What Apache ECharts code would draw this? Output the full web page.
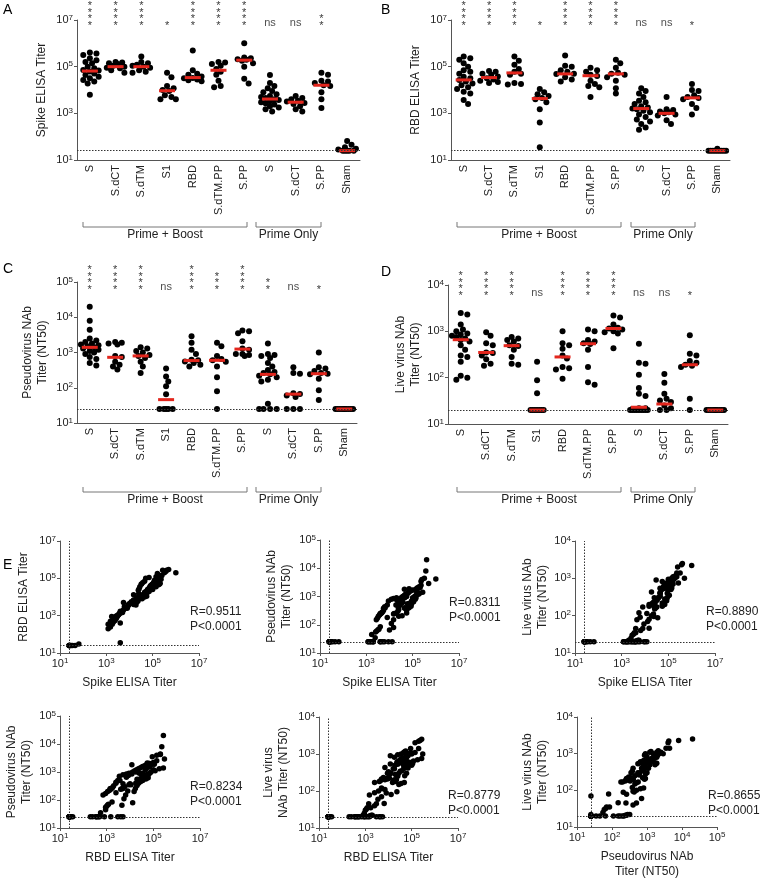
<!DOCTYPE html>
<html>
<head>
<meta charset="utf-8">
<script src="https://cdn.jsdelivr.net/npm/echarts@6/dist/echarts.min.js"></script>
<style>
html, body { margin: 0; padding: 0; background: #fff; }
#main { width: 760px; height: 880px; }
</style>
</head>
<body>
<div id="main"></div>
<script>
// groups on the x axis (first 7 prime + boost, next 3 prime only, then sham)
var groups = ['S', 'S.dCT', 'S.dTM', 'S1', 'RBD', 'S.dTM.PP', 'S.PP', 'S', 'S.dCT', 'S.PP', 'Sham'];

// A: spike ELISA titer, per group
var spikeTiter = [
  [4e5, 3.7e5, 3.2e5, 2.3e5, 1.9e5, 1.6e5, 1.4e5, 1e5, 8.5e4, 7.2e4, 6.8e4, 6.2e4, 5.1e4, 4.4e4, 3.7e4, 3.2e4, 2.7e4, 2.3e4, 1.9e4, 6.2e3],
  [1.6e5, 1.5e5, 1.4e5, 1.3e5, 1.1e5, 1e5, 9e4, 8.5e4, 7e4, 5.5e4],
  [2.7e5, 1.6e5, 1.4e5, 1.2e5, 1.1e5, 1e5, 9e4, 7e4, 6e4, 5.5e4],
  [5.5e4, 3.5e4, 1.5e4, 1.2e4, 1e4, 9e3, 6e3, 5e3, 4e3, 4e3],
  [4.9e5, 7e4, 5e4, 4.5e4, 3.8e4, 3.3e4, 3.2e4, 2.8e4, 2.6e4, 2.4e4],
  [1.6e5, 1.5e5, 1.3e5, 1.1e5, 8e4, 6e4, 4.5e4, 2.5e4, 1.5e4, 1.3e4],
  [1e6, 2.5e5, 2.3e5, 2.1e5, 2e5, 1.8e5, 1.4e5, 1e5, 3e4, 1.9e4],
  [4.4e4, 2e4, 1.5e4, 1.2e4, 9e3, 8e3, 6.5e3, 5.5e3, 5e3, 4.5e3, 4e3, 3.7e3, 3.3e3, 3e3, 2.7e3, 2.4e3, 2e3, 1.8e3, 1.5e3, 1.2e3],
  [5.5e3, 4.5e3, 4e3, 3.5e3, 3.2e3, 2.8e3, 2.5e3, 2e3, 1.5e3, 1.2e3],
  [5.5e4, 4.5e4, 2.5e4, 2.3e4, 2e4, 1.6e4, 1.5e4, 8e3, 4e3, 1.7e3],
  [65, 45, 35, 30, 28, 25, 25, 25, 25, 25]
];
// B: RBD ELISA titer
var rbdTiter = [
  [2.7e5, 2.3e5, 2e5, 1.4e5, 1e5, 7e4, 6e4, 5e4, 3.7e4, 3.2e4, 2.7e4, 2.3e4, 1.9e4, 1.6e4, 1.3e4, 1.1e4, 8.5e3, 7e3, 3.7e3, 2.5e3],
  [6.5e4, 6e4, 5e4, 4.5e4, 3.8e4, 3.2e4, 2.8e4, 2.5e4, 2.2e4, 2e4],
  [2.7e5, 1.8e5, 1.2e5, 8e4, 6e4, 5e4, 4.5e4, 2e4, 1.8e4, 1.7e4],
  [1.1e4, 8e3, 6.5e3, 5.5e3, 4.5e3, 4e3, 3e3, 1.5e3, 400, 35],
  [3e5, 1.1e5, 1e5, 7e4, 6e4, 5e4, 4.8e4, 3.5e4, 2.8e4, 2.3e4],
  [9e4, 7e4, 6e4, 4.5e4, 4e4, 2.5e4, 1.8e4, 1.5e4, 1.3e4, 5e3],
  [2e5, 1.4e5, 9e4, 5.5e4, 5e4, 4.5e4, 3.5e4, 2.5e4, 1.2e4, 7e3],
  [1.2e4, 9e3, 7e3, 5e3, 3.5e3, 3e3, 2.5e3, 2e3, 1.8e3, 1.6e3, 1.5e3, 1.3e3, 1.1e3, 900, 700, 550, 450, 350, 250, 200],
  [5e3, 1.5e3, 1.4e3, 1.2e3, 1.1e3, 1e3, 900, 800, 500, 350],
  [1.8e4, 1e4, 9e3, 6e3, 5e3, 4.5e3, 4e3, 2.5e3, 1.7e3, 900],
  [30, 25, 25, 25, 25, 25, 25, 25, 25, 25]
];
// C: pseudovirus NAb titer (NT50)
var pseudoTiter = [
  [2e4, 8e3, 4.4e3, 2.5e3, 2.2e3, 2e3, 1.8e3, 1.7e3, 1.6e3, 1.5e3, 1.4e3, 1.3e3, 1.2e3, 1.1e3, 1e3, 900, 750, 650, 500, 430],
  [2e3, 1.9e3, 1.8e3, 1.7e3, 800, 750, 550, 450, 400, 330],
  [1.4e3, 1.3e3, 1.1e3, 1e3, 850, 800, 700, 550, 400, 260],
  [350, 210, 150, 110, 65, 25, 25, 25, 25, 25],
  [2.9e3, 1.9e3, 1.2e3, 900, 620, 600, 560, 500, 450, 400],
  [1.9e3, 1.5e3, 800, 650, 600, 550, 400, 200, 80, 25],
  [4.2e3, 4e3, 3.5e3, 2.1e3, 1.3e3, 1.2e3, 900, 900, 850, 800],
  [1.8e3, 900, 850, 800, 700, 500, 400, 320, 280, 260, 240, 220, 200, 170, 150, 35, 25, 25, 25, 25],
  [380, 260, 250, 70, 66, 60, 55, 25, 25, 25],
  [1e3, 380, 350, 300, 260, 250, 240, 180, 85, 45],
  [25, 25, 25, 25, 25, 25, 25, 25, 25, 25]
];
// D: live virus NAb titer (NT50)
var liveTiter = [
  [2.5e3, 2.3e3, 1.4e3, 1.1e3, 1e3, 900, 850, 800, 750, 700, 650, 600, 500, 400, 300, 280, 220, 110, 100, 90],
  [950, 800, 550, 500, 350, 340, 300, 250, 200, 180],
  [750, 700, 650, 600, 500, 480, 400, 280, 200, 190],
  [220, 88, 46, 20, 20, 20, 20, 20, 20, 20],
  [1e3, 550, 500, 420, 300, 260, 170, 160, 150, 95],
  [1.1e3, 1e3, 650, 600, 550, 530, 400, 170, 80, 70],
  [2.2e3, 2e3, 1.4e3, 1.2e3, 1.15e3, 1.1e3, 1e3, 950, 900, 430],
  [540, 210, 200, 115, 60, 45, 40, 22, 22, 21, 21, 20, 20, 20, 20, 20, 20, 20, 20, 20],
  [120, 78, 45, 35, 32, 30, 25, 22, 20, 20],
  [820, 330, 300, 230, 210, 190, 180, 170, 35, 20],
  [20, 20, 20, 20, 20, 20, 20, 20, 20, 20]
];

// medians (red bars)
var spikeMed = [6.5e4, 1e5, 1e5, 9.3e3, 3.4e4, 7e4, 1.9e5, 4.1e3, 3e3, 1.6e4, 25];
var rbdMed = [2.7e4, 3.4e4, 5.4e4, 4.3e3, 4.9e4, 4.1e4, 4.9e4, 1.6e3, 1e3, 4.6e3, 25];
var pseudoMed = [1400, 730, 800, 46, 590, 600, 1250, 240, 66, 250, 25];
var liveMed = [660, 350, 490, 20, 280, 540, 1150, 23, 27, 190, 20];

// significance marks
var spikeSig = ['****', '****', '****', '*', '****', '****', '****', 'ns', 'ns', '**', ''];
var rbdSig = ['****', '****', '****', '*', '****', '****', '****', 'ns', 'ns', '*', ''];
var pseudoSig = ['****', '****', '****', 'ns', '****', '***', '****', '**', 'ns', '*', ''];
var liveSig = ['****', '****', '****', 'ns', '****', '****', '****', 'ns', 'ns', '*', ''];

// correlation results for E
var corrR = ['0.9511', '0.8311', '0.8890', '0.8234', '0.8779', '0.8655'];

var FONT = '"Liberation Sans", Arial, sans-serif';
var INK = '#222';
var AXIS = '#555';

var rich = {
  b: { fontSize: 11, fontFamily: FONT, color: INK },
  e: { fontSize: 8, fontFamily: FONT, color: INK, verticalAlign: 'top', padding: [0, 0, 5, 0] }
};
function powLabel(step) {
  return function (v) {
    var e = Math.round(Math.log10(v));
    if (step === 2 && e % 2 === 0) return '';
    return '{b|10}{e|' + e + '}';
  };
}

function logAxis(gi, min, max, step, extra) {
  var ax = {
    type: 'log', logBase: 10, gridIndex: gi, min: min, max: max, interval: step,
    axisLine: { show: true, lineStyle: { color: AXIS, width: 1 } },
    axisTick: { show: true, length: 3, lineStyle: { color: AXIS } },
    splitLine: { show: false },
    axisLabel: { formatter: powLabel(step), rich: rich, margin: 4 },
    nameLocation: 'middle',
    nameTextStyle: { fontSize: 12, fontFamily: FONT, color: INK, lineHeight: 15 }
  };
  for (var k in extra) ax[k] = extra[k];
  return ax;
}

// simple beeswarm: horizontal offsets in px so dots do not pile up
function swarm(vals, ppd) {
  var d = 5.2, step = 2.2, maxOff = 10;
  var order = vals.map(function (v, i) { return i; }).sort(function (a, b) { return vals[b] - vals[a]; });
  var placed = [], off = [];
  order.forEach(function (i) {
    var y = Math.log10(vals[i]) * ppd;
    var best = 0, bestGap = -1;
    for (var k = 0; k <= 2 * Math.floor(maxOff / step); k++) {
      var dx = (k % 2 ? 1 : -1) * Math.ceil(k / 2) * step;
      var gap = Infinity;
      placed.forEach(function (p) {
        var g = Math.sqrt((p.x - dx) * (p.x - dx) + (p.y - y) * (p.y - y));
        if (g < gap) gap = g;
      });
      if (gap >= d) { best = dx; break; }
      if (gap > bestGap) { bestGap = gap; best = dx; }
    }
    off[i] = best;
    placed.push({ x: best, y: y });
  });
  return off;
}

var dotPanels = [
  { grid: { left: 77, top: 20, width: 283, height: 140 }, data: spikeTiter, med: spikeMed, sig: spikeSig,
    lod: 25, max: 1e7, step: 2, name: 'Spike ELISA Titer', gap: 28, sigDown: 9 },
  { grid: { left: 451, top: 20, width: 279, height: 140 }, data: rbdTiter, med: rbdMed, sig: rbdSig,
    lod: 25, max: 1e7, step: 2, name: 'RBD ELISA Titer', gap: 28, sigDown: 9 },
  { grid: { left: 77, top: 282, width: 280, height: 141 }, data: pseudoTiter, med: pseudoMed, sig: pseudoSig,
    lod: 25, max: 1e5, step: 1, name: 'Pseudovirus NAb\nTiter (NT50)', gap: 27, sigDown: 11 },
  { grid: { left: 448, top: 285, width: 280, height: 139 }, data: liveTiter, med: liveMed, sig: liveSig,
    lod: 20, max: 1e4, step: 1, name: 'Live virus NAb\nTiter (NT50)', gap: 25, sigDown: 14 }
];

// each animal appears in every panel; within a group, pair the ranked titers
function pairUp(a, b) {
  var out = [];
  a.forEach(function (grp, g) {
    var x = grp.slice().sort(function (p, q) { return q - p; });
    var y = b[g].slice().sort(function (p, q) { return q - p; });
    for (var j = 0; j < Math.min(x.length, y.length); j++) out.push([x[j], y[j]]);
  });
  return out;
}

var scatterPanels = [
  { grid: { left: 60, top: 541, width: 139, height: 112 }, x: spikeTiter, y: rbdTiter, xmax: 1e7, xstep: 2, ymax: 1e7, ystep: 2,
    xname: 'Spike ELISA Titer', yname: 'RBD ELISA Titer', ygap: 29, xgap: 22, ylod: 25, rp: [190, 619] },
  { grid: { left: 320, top: 540, width: 139, height: 113 }, x: spikeTiter, y: pseudoTiter, xmax: 1e7, xstep: 2, ymax: 1e5, ystep: 1,
    xname: 'Spike ELISA Titer', yname: 'Pseudovirus NAb\nTiter (NT50)', ygap: 26, xgap: 22, ylod: 25, rp: [449, 610] },
  { grid: { left: 575, top: 541, width: 140, height: 112 }, x: spikeTiter, y: liveTiter, xmax: 1e7, xstep: 2, ymax: 1e4, ystep: 1,
    xname: 'Spike ELISA Titer', yname: 'Live virus NAb\nTiter (NT50)', ygap: 25, xgap: 22, ylod: 20, rp: [706, 619] },
  { grid: { left: 60, top: 716, width: 140, height: 112 }, x: rbdTiter, y: pseudoTiter, xmax: 1e7, xstep: 2, ymax: 1e5, ystep: 1,
    xname: 'RBD ELISA Titer', yname: 'Pseudovirus NAb\nTiter (NT50)', ygap: 26, xgap: 22, ylod: 25, rp: [190, 794] },
  { grid: { left: 319, top: 717, width: 139, height: 111 }, x: rbdTiter, y: liveTiter, xmax: 1e7, xstep: 2, ymax: 1e4, ystep: 1,
    xname: 'RBD ELISA Titer', yname: 'Live virus\nNAb Titer (NT50)', ygap: 28, xgap: 22, ylod: 20, rp: [448, 803] },
  { grid: { left: 577, top: 717, width: 140, height: 111 }, x: pseudoTiter, y: liveTiter, xmax: 1e5, xstep: 1, ymax: 1e4, ystep: 1,
    xname: 'Pseudovirus NAb\nTiter (NT50)', yname: 'Live virus NAb\nTiter (NT50)', ygap: 27, xgap: 22, ylod: 20, rp: [708, 803] }
];

var option = {
  backgroundColor: '#fff',
  animation: false,
  textStyle: { fontFamily: FONT },
  grid: [], xAxis: [], yAxis: [], series: [], graphic: []
};

var dotLine = { type: [1.5, 1.5], color: '#333', width: 1 };

dotPanels.forEach(function (p, i) {
  option.grid.push(p.grid);
  option.xAxis.push({
    type: 'category', gridIndex: i, data: groups, boundaryGap: true,
    axisLine: { lineStyle: { color: AXIS, width: 1 } },
    axisTick: { show: false },
    axisLabel: { rotate: 90, fontSize: 11, fontFamily: FONT, color: INK, margin: 5, interval: 0 }
  });
  option.yAxis.push(logAxis(i, 10, p.max, p.step, { name: p.name, nameGap: p.gap }));
  var ppd = p.grid.height / Math.log10(p.max / 10);
  var pts = [];
  p.data.forEach(function (vals, g) {
    var off = swarm(vals, ppd);
    vals.forEach(function (v, j) { pts.push({ value: [g, v], symbolOffset: [off[j], 0] }); });
  });
  option.series.push({
    type: 'scatter', xAxisIndex: i, yAxisIndex: i, data: pts, symbolSize: 6,
    itemStyle: { color: '#000', opacity: 1 }, z: 2,
    markLine: { silent: true, symbol: 'none', label: { show: false }, lineStyle: dotLine, data: [{ yAxis: p.lod }] }
  });
  option.series.push({
    type: 'scatter', xAxisIndex: i, yAxisIndex: i, symbol: 'rect', symbolSize: [16, 3],
    itemStyle: { color: '#e3261d', opacity: 1 }, z: 3,
    data: p.med.map(function (m, g) { return [g, m]; })
  });
  option.series.push({
    type: 'scatter', xAxisIndex: i, yAxisIndex: i, symbolSize: 0, silent: true, z: 4,
    data: p.sig.map(function (s, g) { return [g, p.max]; }),
    label: {
      show: true, position: [0, p.sigDown], align: 'center', verticalAlign: 'bottom',
      formatter: function (prm) {
        var s = p.sig[prm.dataIndex];
        if (!s) return '';
        if (s === 'ns') return '{ns|ns}';
        return s.split('').map(function () { return '{st|*}'; }).join('\n');
      },
      rich: {
        ns: { fontSize: 11, fontFamily: FONT, color: INK, lineHeight: 12 },
        st: { fontSize: 11, fontFamily: FONT, color: '#000', lineHeight: 6.5 }
      }
    }
  });
});

scatterPanels.forEach(function (p, k) {
  var i = k + dotPanels.length;
  option.grid.push(p.grid);
  option.xAxis.push(logAxis(i, 10, p.xmax, p.xstep, { name: p.xname, nameGap: p.xgap }));
  option.yAxis.push(logAxis(i, 10, p.ymax, p.ystep, { name: p.yname, nameGap: p.ygap }));
  option.series.push({
    type: 'scatter', xAxisIndex: i, yAxisIndex: i, data: pairUp(p.x, p.y), symbolSize: 5.5,
    itemStyle: { color: '#000', opacity: 1 },
    markLine: { silent: true, symbol: 'none', label: { show: false }, lineStyle: dotLine,
      data: [{ xAxis: 25 }, { yAxis: p.ylod }] }
  });
  option.graphic.push({
    type: 'text', x: p.rp[0], y: p.rp[1],
    style: { text: 'R=' + corrR[k] + '\nP<0.0001', fontSize: 12, fontFamily: FONT, fill: INK,
      lineHeight: 15, verticalAlign: 'middle' }
  });
});

// panel letters
[['A', 3, 3], ['B', 381, 3], ['C', 3, 262], ['D', 381, 265], ['E', 3, 558]].forEach(function (l) {
  option.graphic.push({ type: 'text', x: l[1], y: l[2], style: { text: l[0], fontSize: 14, fontFamily: FONT, fill: '#000' } });
});

// group brackets under A-D
[[83, 247, 256, 321, 227], [457, 621, 631, 695, 227], [83, 247, 256, 321, 492], [457, 621, 631, 695, 492]].forEach(function (b) {
  var y = b[4];
  option.graphic.push({ type: 'polyline', shape: { points: [[b[0], y - 5], [b[0], y], [b[1], y], [b[1], y - 5]] },
    style: { stroke: '#777', lineWidth: 1, fill: null } });
  option.graphic.push({ type: 'polyline', shape: { points: [[b[2], y - 5], [b[2], y], [b[3], y], [b[3], y - 5]] },
    style: { stroke: '#777', lineWidth: 1, fill: null } });
  option.graphic.push({ type: 'text', x: (b[0] + b[1]) / 2, y: y + 2,
    style: { text: 'Prime + Boost', fontSize: 12, fontFamily: FONT, fill: INK, align: 'center' } });
  option.graphic.push({ type: 'text', x: (b[2] + b[3]) / 2, y: y + 2,
    style: { text: 'Prime Only', fontSize: 12, fontFamily: FONT, fill: INK, align: 'center' } });
});

var chart = echarts.init(document.getElementById('main'));
chart.setOption(option);
</script>
</body>
</html>
